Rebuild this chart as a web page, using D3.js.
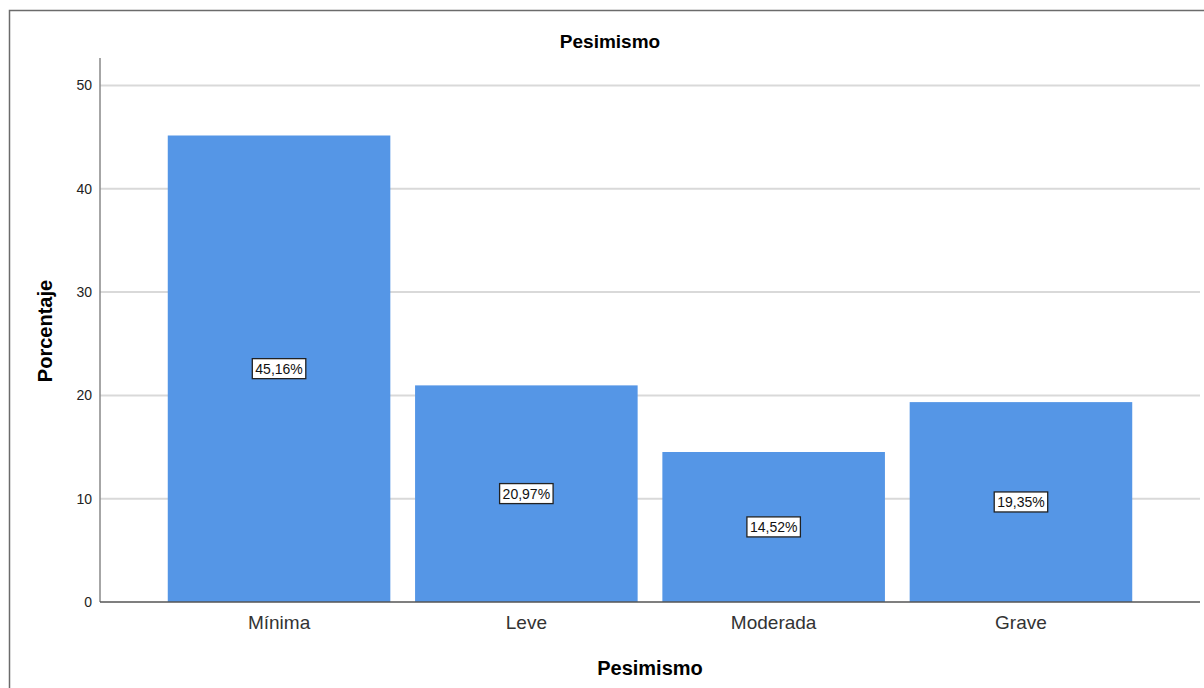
<!DOCTYPE html>
<html>
<head>
<meta charset="utf-8">
<script src="https://cdn.jsdelivr.net/npm/d3@7"></script>
<style>
  body { margin: 0; background: #fff; }
  text { font-family: Arial, "Liberation Sans", sans-serif; }
</style>
</head>
<body>
<div id="chart"></div>
<script>
// data
let categories = ["Mínima", "Leve", "Moderada", "Grave"];
let percents = [45.16, 20.97, 14.52, 19.35];
let yTicks = [0, 10, 20, 30, 40, 50];

let W = 1204, H = 688;
let margin = {top: 58, right: 4, bottom: 86, left: 100};

let svg = d3.select("#chart").append("svg")
    .attr("width", W)
    .attr("height", H);

// outer frame
svg.append("rect")
    .attr("x", 9.5).attr("y", 10.5)
    .attr("width", 1300).attr("height", 800)
    .attr("fill", "none")
    .attr("stroke", "#6b6b6b")
    .attr("stroke-width", 1.5);

let x = d3.scaleBand()
    .domain(categories)
    .range([margin.left, 1200])
    .paddingInner(0.1)
    .paddingOuter(0.274);

let y = d3.scaleLinear()
    .domain([0, 50])
    .range([602, 85.5]);

// gridlines
svg.append("g")
    .selectAll("line")
    .data(yTicks.filter(d => d > 0))
    .enter().append("line")
    .attr("x1", margin.left)
    .attr("x2", 1200)
    .attr("y1", d => y(d))
    .attr("y2", d => y(d))
    .attr("stroke", "#d9d9d9")
    .attr("stroke-width", 2);

// bars
svg.append("g")
    .selectAll("rect")
    .data(percents)
    .enter().append("rect")
    .attr("x", (d, i) => x(categories[i]))
    .attr("y", d => y(d))
    .attr("width", x.bandwidth())
    .attr("height", d => y(0) - y(d))
    .attr("fill", "#5596e6");

// y axis
let yAxis = d3.axisLeft(y).tickValues(yTicks).tickSize(0).tickPadding(8);
let gy = svg.append("g")
    .attr("transform", `translate(${margin.left},0)`)
    .call(yAxis);
gy.select(".domain").remove();
gy.selectAll("text").attr("font-size", 14).attr("fill", "#222");
svg.append("line")
    .attr("x1", margin.left).attr("x2", margin.left)
    .attr("y1", 58).attr("y2", 602)
    .attr("stroke", "#888").attr("stroke-width", 1.5);

// x axis
let xAxis = d3.axisBottom(x).tickSize(0).tickPadding(14);
let gx = svg.append("g")
    .attr("transform", "translate(0,602)")
    .call(xAxis);
gx.select(".domain").remove();
gx.selectAll("text").attr("font-size", 19).attr("fill", "#333");
svg.append("line")
    .attr("x1", margin.left).attr("x2", 1200)
    .attr("y1", 602).attr("y2", 602)
    .attr("stroke", "#555").attr("stroke-width", 1.5);

// value labels
let fmt = d => d.toFixed(2).replace(".", ",") + "%";
let labels = svg.append("g")
    .selectAll("g")
    .data(percents)
    .enter().append("g")
    .attr("transform", (d, i) => `translate(${x(categories[i]) + x.bandwidth() / 2},${y(d / 2)})`);
labels.append("text")
    .attr("text-anchor", "middle")
    .attr("dy", "0.35em")
    .attr("font-size", 14)
    .attr("fill", "#111")
    .text(fmt)
    .each(function () {
        let bb = this.getBBox();
        d3.select(this.parentNode).insert("rect", "text")
            .attr("x", bb.x - 3).attr("y", bb.y - 2)
            .attr("width", bb.width + 6).attr("height", bb.height + 4)
            .attr("fill", "#fff")
            .attr("stroke", "#222")
            .attr("stroke-width", 1.3);
    });

// titles
svg.append("text")
    .attr("x", 610).attr("y", 48)
    .attr("text-anchor", "middle")
    .attr("font-size", 19).attr("font-weight", "bold")
    .text("Pesimismo");

svg.append("text")
    .attr("x", 650).attr("y", 675)
    .attr("text-anchor", "middle")
    .attr("font-size", 20).attr("font-weight", "bold")
    .text("Pesimismo");

svg.append("text")
    .attr("transform", "translate(52,331) rotate(-90)")
    .attr("text-anchor", "middle")
    .attr("font-size", 20).attr("font-weight", "bold")
    .text("Porcentaje");
</script>
</body>
</html>
